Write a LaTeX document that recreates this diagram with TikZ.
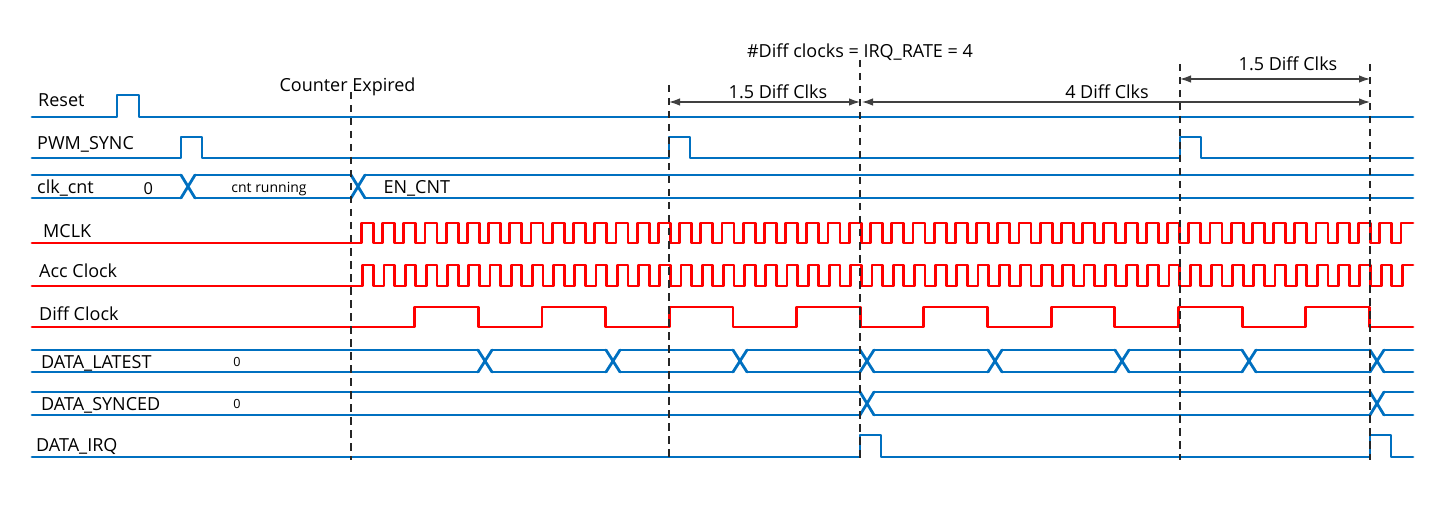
\documentclass[tikz,border=0pt]{standalone}
\usepackage{fontspec}
\setmainfont{Open Sans}
\usepackage{xcolor}
\usepackage{tikz}
\usetikzlibrary{positioning,arrows.meta}
\definecolor{wireblue}{RGB}{0,112,192}
\definecolor{clkred}{RGB}{255,0,0}
\tikzset{
  bluewave/.style={draw=wireblue, line width=2.8pt, line cap=round, line join=round},
  redwave/.style={draw=clkred, line width=2.8pt, line cap=round, line join=round},
  markline/.style={draw=black!85, line width=1.2pt, dash pattern=on 7.5pt off 5.5pt},
  dimarrow/.style={draw=black!75, line width=1.2pt, {Latex[length=11pt,width=7.5pt]}-{Latex[length=11pt,width=7.5pt]}},
  siglabel/.style={anchor=west, inner sep=0pt, text height=12.8pt, text depth=0pt, font=\fontsize{18}{21}\selectfont},
  toplabel/.style={inner sep=0pt, text height=12.8pt, text depth=0pt, font=\fontsize{18}{21}\selectfont},
  buszero/.style={inner sep=0pt, text height=9pt, text depth=0pt, font=\fontsize{12.6}{14}\selectfont}
}

\begin{document}
\begin{tikzpicture}[x=1pt, y=-1pt]
	\useasboundingbox (0,0) rectangle (1435,505);
	\def\tz{351}
	\def\per{127.3}
	\def\xend{1413}
	
	\draw[bluewave] (32,117) -- (117,117) -- (117,95) -- (139,95) -- (139,117) -- (\xend,117);
	\draw[bluewave] (32,158) \foreach \p in {181,669,1180} { -- (\p,158) -- (\p,137) -- (\p+21,137) -- (\p+21,158) } -- (\xend,158);
	
	\foreach \a/\b in {32/181, 195/351, 365/\xend} {
		\draw[bluewave] (\a,175) -- (\b,175);
		\draw[bluewave] (\a,198) -- (\b,198);
	}
	\foreach \c in {181,351} {
		\draw[bluewave] (\c,175) -- (\c+14,198);
		\draw[bluewave] (\c,198) -- (\c+14,175);
	}
	
	\draw[redwave] (32,243) \foreach \k in {0,...,48} { -- ({361.3+\k*\per/6},243) -- ++(0,-20) -- ++(12,0) -- ++(0,20) } -- ({361.3+49*\per/6},243) -- ++(0,-20) -- (\xend,223);
	\draw[redwave] (32,286) \foreach \k in {0,...,48} { -- ({362.7+\k*\per/6},286) -- ++(0,-21) -- ++(10.6,0) -- ++(0,21) } -- ({362.7+49*\per/6},286) -- ++(0,-21) -- (\xend,265);
	\draw[redwave] (32,327) \foreach \k in {0,...,7} { -- ({\tz+(\k+0.5)*\per},327) -- ({\tz+(\k+0.5)*\per},307) -- ({\tz+(\k+1)*\per},307) -- ({\tz+(\k+1)*\per},327) } -- (\xend,327);
	
	\foreach \a/\b in {32/478, 492/606, 620/733, 747/860, 874/988, 1002/1115, 1129/1242, 1256/1370, 1384/\xend} {
		\draw[bluewave] (\a,350) -- (\b,350);
		\draw[bluewave] (\a,372) -- (\b,372);
	}
	\foreach \c in {478,606,733,860,988,1115,1242,1370} {
		\draw[bluewave] (\c,350) -- (\c+14,372);
		\draw[bluewave] (\c,372) -- (\c+14,350);
	}
	
	\foreach \a/\b in {32/860, 874/1370, 1384/\xend} {
		\draw[bluewave] (\a,392) -- (\b,392);
		\draw[bluewave] (\a,415) -- (\b,415);
	}
	\foreach \c in {860,1370} {
		\draw[bluewave] (\c,392) -- (\c+14,415);
		\draw[bluewave] (\c,415) -- (\c+14,392);
	}
	
	\draw[bluewave] (32,457) \foreach \p in {860,1370} { -- (\p,457) -- (\p,435) -- (\p+21,435) -- (\p+21,457) } -- (\xend,457);
	
	\node[siglabel] (reset) at (38,100.3) {Reset};
	\node[siglabel] (pwmsync) at (37,143.3) {PWM\_SYNC};
	\node[siglabel] (clkcnt) at (37,187) {clk\_cnt};
	\node[siglabel] (mclk) at (43,230.7) {MCLK};
	\node[siglabel] (accclk) at (39,270.7) {Acc Clock};
	\node[siglabel] (diffclk) at (39,314) {Diff Clock};
	\node[siglabel] (latest) at (41,361.7) {DATA\_LATEST};
	\node[siglabel] (synced) at (41,404) {DATA\_SYNCED};
	\node[siglabel] (irq) at (36,445) {DATA\_IRQ};
	
	\node[inner sep=0pt, text height=11.7pt, text depth=0pt, font=\fontsize{16.4}{18}\selectfont] (cntzero) at (148.3,188.5) {0};
	\node[inner sep=0pt, text height=7.5pt, text depth=0pt, font=\fontsize{14}{16}\selectfont] (running) at (269,188.3) {cnt running};
	\node[siglabel] (encnt) at (383.3,187.5) {EN\_CNT};
	\node[buszero] (latestzero) at (237,361.5) {0};
	\node[buszero] (syncedzero) at (237,404) {0};
	
	\node[toplabel] (expired) at (347.5,85) {Counter Expired};
	\node[toplabel] (rate) at (860,51) {\#Diff clocks = IRQ\_RATE = 4};
	\node[toplabel] (lenA) at (778,91.7) {1.5 Diff Clks};
	\node[toplabel] (lenB) at (1107,91.7) {4 Diff Clks};
	\node[toplabel] (lenC) at (1288,64) {1.5 Diff Clks};
	
	\coordinate (syncA) at (669,102);
	\coordinate (irqA) at (860,102);
	\coordinate (irqB) at (1370,102);
	\coordinate (syncB) at (1180,79);
	\coordinate (irqC) at (1370,79);
	\draw[dimarrow] (syncA) -- (irqA);
	\draw[dimarrow, shorten <=2pt] (irqA) -- (irqB);
	\draw[dimarrow] (syncB) -- (irqC);
	
	\foreach \x/\t in {351/92, 669/85, 860/60, 1180/64, 1370/64} {
		\draw[markline] (\x,\t) -- (\x,460);
	}
\end{tikzpicture}
\end{document}
